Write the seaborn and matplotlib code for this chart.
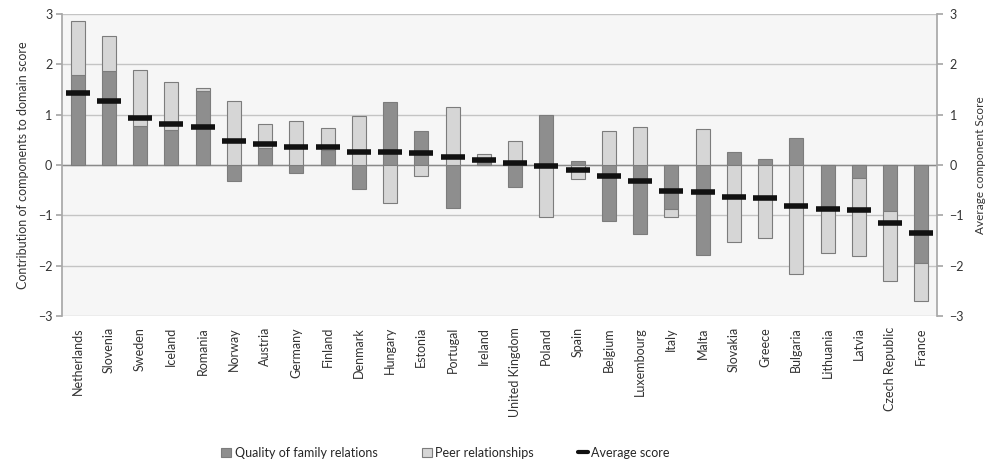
import numpy as np
import pandas as pd
import matplotlib
matplotlib.use("Agg")
import matplotlib.pyplot as plt
import seaborn as sns
from matplotlib.patches import Patch
from matplotlib.lines import Line2D

countries = ["Netherlands", "Slovenia", "Sweden", "Iceland", "Romania", "Norway",
             "Austria", "Germany", "Finland", "Denmark", "Hungary", "Estonia",
             "Portugal", "Ireland", "United Kingdom", "Poland", "Spain", "Belgium",
             "Luxembourg", "Italy", "Malta", "Slovakia", "Greece", "Bulgaria",
             "Lithuania", "Latvia", "Czech Republic", "France"]
family = [1.78, 1.87, 0.77, 0.70, 1.47, -0.31, 0.33, -0.15, 0.30, -0.47, 1.26, 0.68,
          -0.86, 0.05, -0.43, 1.00, 0.08, -1.11, -1.37, -0.88, -1.79, 0.25, 0.11, 0.54,
          -0.88, -0.26, -0.92, -1.95]
peer = [1.09, 0.69, 1.12, 0.95, 0.05, 1.27, 0.49, 0.88, 0.43, 0.97, -0.76, -0.21,
        1.15, 0.16, 0.48, -1.03, -0.28, 0.68, 0.75, -0.15, 0.72, -1.53, -1.45, -2.17,
        -0.87, -1.55, -1.38, -0.76]
average = [1.43, 1.27, 0.94, 0.82, 0.76, 0.48, 0.41, 0.36, 0.36, 0.25, 0.25, 0.24,
           0.15, 0.10, 0.03, -0.01, -0.10, -0.21, -0.31, -0.52, -0.53, -0.63, -0.66, -0.81,
           -0.88, -0.90, -1.15, -1.35]

df = pd.DataFrame({"country": countries, "family": family, "peer": peer, "avg": average})
# peer bar starts where family ends if both have same sign, else from zero
df["peer_base"] = np.where(np.sign(df["family"]) == np.sign(df["peer"]), df["family"], 0.0)

sns.set_theme(style="white")
plt.rcParams["font.family"] = ["Lato", "DejaVu Sans"]

dark = "#8e8e8e"
light = "#d6d6d6"
edge = "#7c7c7c"
txt = "#333333"
fs = 9

fig = plt.figure(figsize=(9.89, 4.67), dpi=100)
ax = fig.add_axes([62 / 989, 1 - 316 / 467, 875 / 989, 302 / 467])
ax.set_facecolor("#f6f6f6")

sns.barplot(data=df, x="country", y="family", order=countries, color=dark,
            edgecolor=edge, linewidth=0.8, width=0.45, saturation=1, ax=ax, zorder=3)
ax.bar(np.arange(len(df)), df["peer"], bottom=df["peer_base"], width=0.45,
       color=light, edgecolor=edge, linewidth=0.8, zorder=3)
ax.plot(np.arange(len(df)), df["avg"], linestyle="none", marker="_", markersize=17,
        markeredgewidth=4, color="#111111", zorder=4)

ax.set_ylim(-3, 3)
ax.set_xlim(-0.5, len(df) - 0.5)
ax.set_yticks(range(-3, 4))
ax.yaxis.grid(True, color="#c4c4c4", linewidth=1)
ax.axhline(0, color="#8a8a8a", linewidth=1, zorder=2)
ax.set_axisbelow(True)
for s in ["top", "bottom", "right"]:
    ax.spines[s].set_visible(False)
ax.spines["left"].set_color("#a8a8a8")
ax.tick_params(axis="y", direction="out", length=4, color="#a8a8a8",
               labelsize=fs, labelcolor=txt, pad=3)
ax.tick_params(axis="x", length=0, labelsize=fs, labelcolor=txt, pad=8)
plt.setp(ax.get_xticklabels(), rotation=90)
ax.set_xlabel("")
ax.set_ylabel("Contribution of components to domain score", fontsize=fs, color=txt,
              labelpad=6)

ax2 = ax.twinx()
ax2.set_ylim(-3, 3)
ax2.set_yticks(range(-3, 4))
for s in ["top", "bottom", "left"]:
    ax2.spines[s].set_visible(False)
ax2.spines["right"].set_color("#a8a8a8")
ax2.tick_params(axis="y", direction="out", length=4, color="#a8a8a8",
                labelsize=fs, labelcolor=txt, pad=5)
ax2.set_ylabel("Average component Score", fontsize=8.5, color=txt, labelpad=8)

handles = [Patch(facecolor=dark, edgecolor=edge, linewidth=0.8),
           Patch(facecolor=light, edgecolor=edge, linewidth=0.8),
           Line2D([], [], color="#111111", linewidth=3)]
labels = ["Quality of family relations", "Peer relationships", "Average score"]
fig.legend(handles, labels, loc="center left", bbox_to_anchor=(210 / 989, 0.03), ncol=3,
           frameon=False, fontsize=fs, handlelength=0.8, handleheight=0.8,
           handletextpad=0.3, columnspacing=3.5)

fig.savefig("out.png", dpi=100, facecolor="white")
